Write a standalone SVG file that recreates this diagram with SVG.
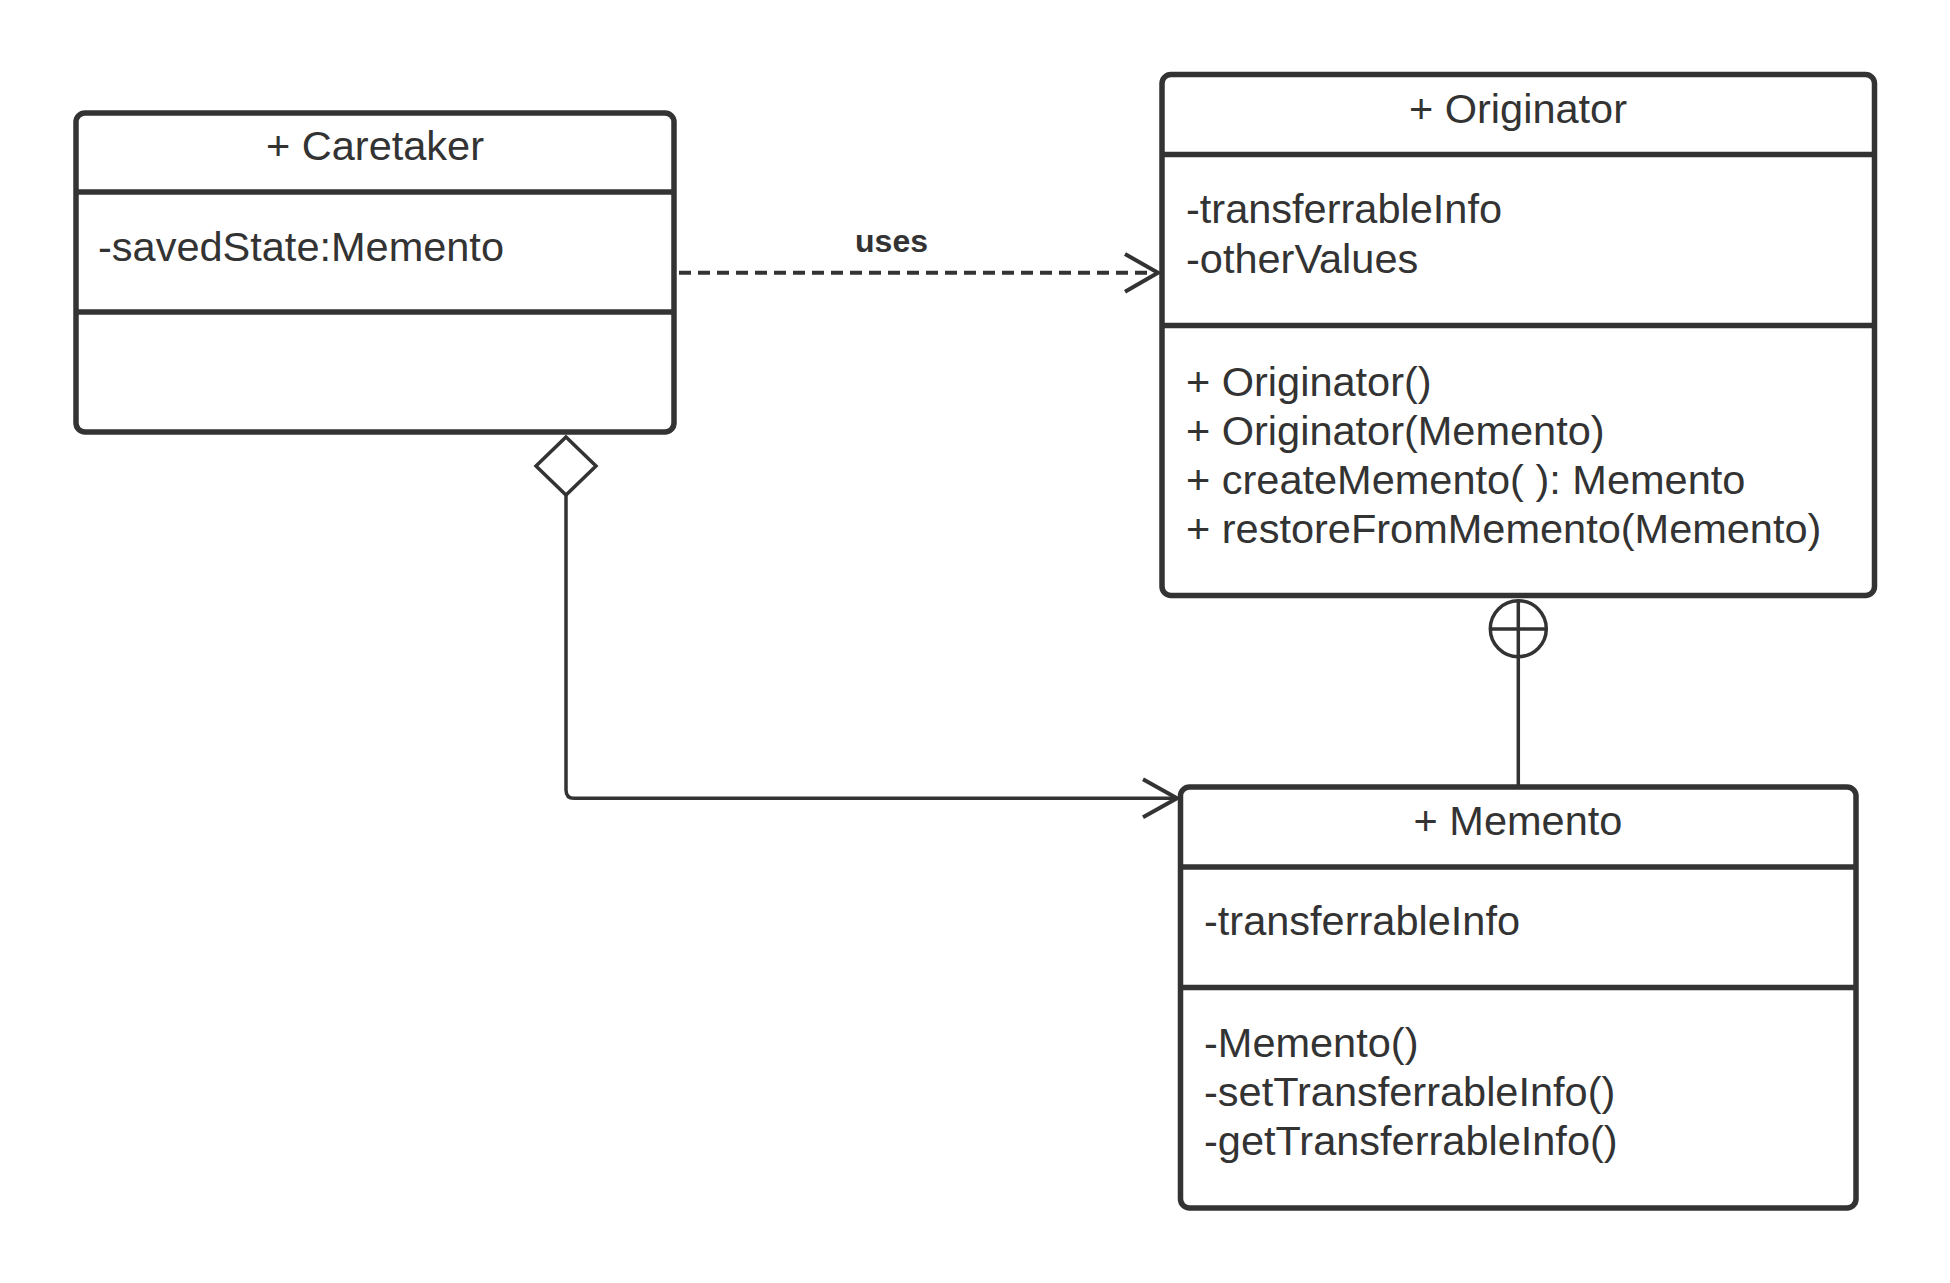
<svg xmlns="http://www.w3.org/2000/svg" width="1950" height="1283" viewBox="0 0 1950 1283">
<style>
.box{fill:#fff;stroke:#333;stroke-width:5.5}
.div{stroke:#333;stroke-width:5.5}
.t{font-family:"Liberation Sans",Arial,sans-serif;font-size:41.5px;fill:#333}
.c{text-anchor:middle}
.lbl{font-family:"Liberation Sans",Arial,sans-serif;font-size:32px;font-weight:bold;fill:#333;text-anchor:middle}
.ln{fill:none;stroke:#333;stroke-width:3.5}
</style>
<rect width="1950" height="1283" fill="#fff"/>
<g id="connectors">
<line x1="679" y1="272.7" x2="1156" y2="272.7" stroke="#333" stroke-width="4" stroke-dasharray="12 7"/>
<polyline class="ln" style="stroke-width:4" points="1125,254 1158,272.7 1125,291.7"/>
<path class="ln" d="M566,495 V790 Q566,798.3 574,798.3 H1176"/>
<polygon points="566,437 596,466 566,495 536,466" fill="#fff" stroke="#333" stroke-width="3.5"/>
<polyline class="ln" style="stroke-width:4" points="1143,779.3 1177,798.3 1143,817.3"/>
<line class="ln" x1="1518.3" y1="600.7" x2="1518.3" y2="787"/>
<circle class="ln" cx="1518.3" cy="628.7" r="28"/>
<line class="ln" x1="1490.3" y1="629" x2="1546.3" y2="629"/>
<text class="lbl" x="891.5" y="252">uses</text>
</g>
<g id="caretaker">
<rect class="box" x="76" y="113" width="598" height="319" rx="9"/>
<line class="div" x1="76" y1="192" x2="674" y2="192"/>
<line class="div" x1="76" y1="312" x2="674" y2="312"/>
<text class="t c" x="375" y="160">+ Caretaker</text>
<text class="t" x="98" y="261">-savedState:Memento</text>
</g>
<g id="originator">
<rect class="box" x="1162" y="74.5" width="712.5" height="521" rx="9"/>
<line class="div" x1="1162" y1="154.5" x2="1874.5" y2="154.5"/>
<line class="div" x1="1162" y1="325.5" x2="1874.5" y2="325.5"/>
<text class="t c" x="1518" y="123">+ Originator</text>
<text class="t" x="1186" y="223">-transferrableInfo</text>
<text class="t" x="1186" y="272.5">-otherValues</text>
<text class="t" x="1186" y="395.5">+ Originator()</text>
<text class="t" x="1186" y="444.7">+ Originator(Memento)</text>
<text class="t" x="1186" y="494">+ createMemento( ): Memento</text>
<text class="t" x="1186" y="543">+ restoreFromMemento(Memento)</text>
</g>
<g id="memento">
<rect class="box" x="1180.5" y="787" width="675.5" height="421" rx="9"/>
<line class="div" x1="1180.5" y1="867" x2="1856" y2="867"/>
<line class="div" x1="1180.5" y1="987.5" x2="1856" y2="987.5"/>
<text class="t c" x="1518" y="834.6">+ Memento</text>
<text class="t" x="1204" y="935">-transferrableInfo</text>
<text class="t" x="1204" y="1056.7">-Memento()</text>
<text class="t" x="1204" y="1106">-setTransferrableInfo()</text>
<text class="t" x="1204" y="1155">-getTransferrableInfo()</text>
</g>
</svg>
